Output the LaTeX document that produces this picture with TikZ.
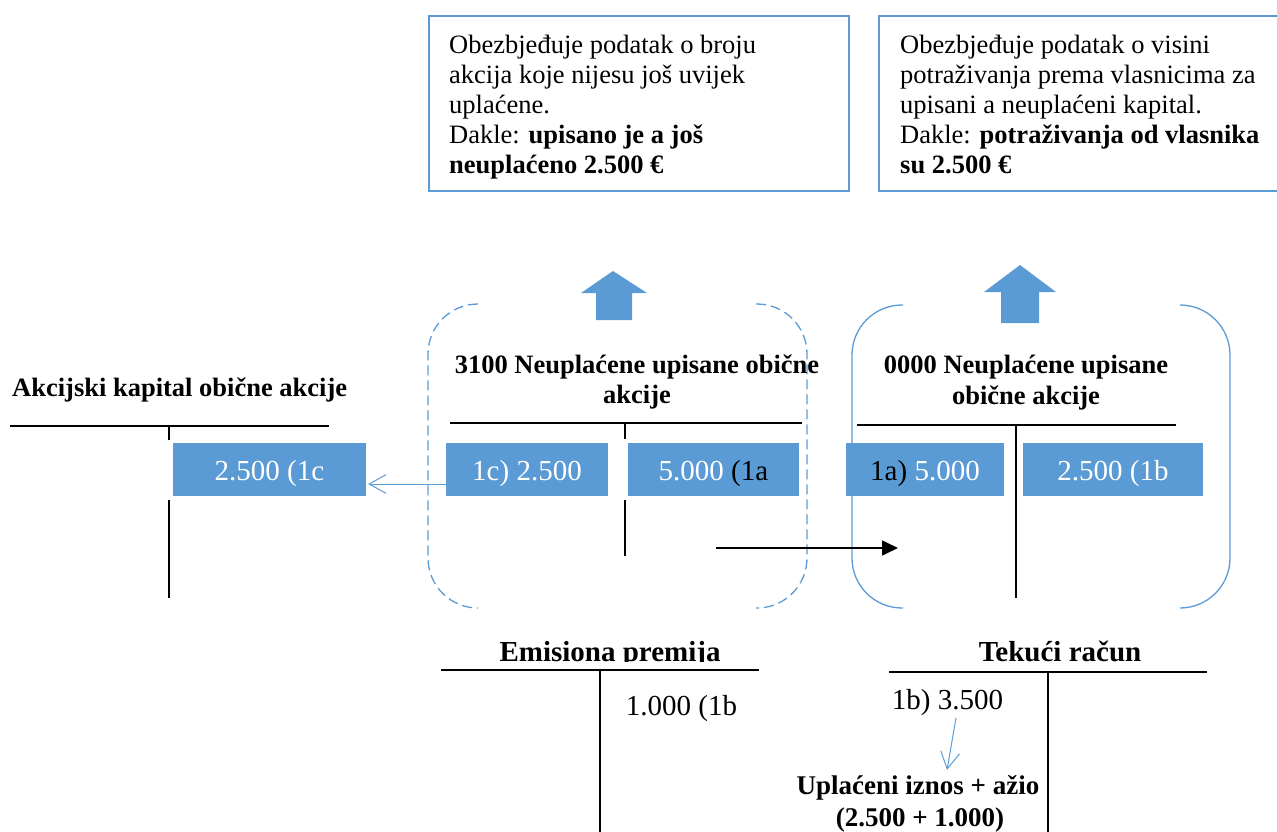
\documentclass[tikz,border=0pt]{standalone}
\usepackage{fontspec}
\setmainfont{Liberation Serif}
\usetikzlibrary{arrows.meta}
\definecolor{accblue}{HTML}{5B9BD5}
\tikzset{
  infobox/.style={draw=accblue, line width=2pt, inner sep=0pt, anchor=north west},
  infotext/.style={inner sep=0pt, anchor=north west, align=left, font=\fontsize{26.5}{30}\selectfont},
  entry/.style={fill=accblue, text=white, inner sep=0pt, minimum height=53pt,
    text height=21pt, text depth=0pt, font=\fontsize{29}{33}\selectfont},
  acctitle/.style={inner sep=0pt, anchor=base, font=\bfseries\fontsize{26.5}{30}\selectfont},
  bigtitle/.style={acctitle, font=\bfseries\fontsize{29}{33}\selectfont},
  notetitle/.style={acctitle, font=\bfseries\fontsize{27}{31}\selectfont},
  amount/.style={inner sep=0pt, anchor=base, font=\fontsize{29}{33}\selectfont},
  tline/.style={line width=1.8pt},
  groupline/.style={draw=accblue, line width=1.3pt, rounded corners=50pt},
  upshape/.style={fill=accblue},
  thinarrow/.style={draw=accblue, line width=1pt, -{Straight Barb[length=17pt,width=19pt]}},
  flowarrow/.style={line width=1.6pt, -{Triangle[length=16pt,width=15pt]}},
}
\begin{document}
\begin{tikzpicture}[x=1pt,y=-1pt]
\useasboundingbox (0,0) rectangle (1277,832);
\clip (0,0) rectangle (1277,832);

% explanatory boxes
\node[infobox, minimum width=420pt, minimum height=175pt] (info1) at (428,15) {};
\node[infotext] (info1txt) at (449,33) {\rule{0pt}{20pt}Obezbjeđuje podatak o broju\\
akcija koje nijesu još uvijek\\
uplaćene.\\
Dakle: \textbf{upisano je a još}\\
\textbf{neuplaćeno 2.500 €}};

\node[infobox, minimum width=410pt, minimum height=175pt] (info2) at (878,15) {};
\node[infotext] (info2txt) at (900,33) {\rule{0pt}{20pt}Obezbjeđuje podatak o visini\\
potraživanja prema vlasnicima za\\
upisani a neuplaćeni kapital.\\
Dakle: \textbf{potraživanja od vlasnika}\\
\textbf{su 2.500 €}};

% block arrows pointing to the boxes
\fill[upshape] (596,320) -- (596,293) -- (581,293) -- (613,271) -- (647,293) -- (632,293) -- (632,320) -- cycle;
\fill[upshape] (1001,323) -- (1001,292) -- (984,292) -- (1020,265) -- (1056,292) -- (1039,292) -- (1039,323) -- cycle;

% grouping brackets
\draw[groupline, dash pattern=on 10pt off 5pt] (478,304) -| (428,608) -- (478,608);
\draw[groupline, dash pattern=on 10pt off 5pt] (756,304) -| (807,608) -- (756,608);
\draw[groupline] (903,305) -| (852,608) -- (903,608);
\draw[groupline] (1180,305) -| (1230,608) -- (1180,608);

% T-account: Akcijski kapital
\node[acctitle, anchor=base west] (akcT) at (12,396) {Akcijski kapital obične akcije};
\draw[tline] (10,426) -- (329,426);
\draw[tline] (169,426) -- (169,440);
\draw[tline] (169,500) -- (169,598);

% T-account: 3100
\node[acctitle] (t3100a) at (637,373) {3100 Neuplaćene upisane obične};
\node[acctitle] (t3100b) at (637,403) {akcije};
\draw[tline] (450,423) -- (802,423);
\draw[tline] (625,423) -- (625,439);
\draw[tline] (625,500) -- (625,556);

% T-account: 0000
\node[acctitle] (t0000a) at (1026,373) {0000 Neuplaćene upisane};
\node[acctitle] (t0000b) at (1026,404) {obične akcije};
\draw[tline] (857,425) -- (1176,425);
\draw[tline] (1016,425) -- (1016,598);

% entries
\node[entry, minimum width=193pt] (ak1c) at (269.5,469.5) {2.500 (1c};
\node[entry, minimum width=162pt] (n1c) at (527,469.5) {1c) 2.500};
\node[entry, minimum width=171pt] (n1a) at (713.5,469.5) {5.000 \textcolor{black}{(1a}};
\node[entry, minimum width=158pt] (p1a) at (925,469.5) {\textcolor{black}{1a)} 5.000};
\node[entry, minimum width=180pt] (p1b) at (1113,469.5) {2.500 (1b};

\draw[thinarrow] ([yshift=-14.5pt]n1c.west) -- ([xshift=2pt,yshift=-14.5pt]ak1c.east);

\coordinate (flowA) at (716,548);
\coordinate (flowB) at (898,548);
\draw[flowarrow] (flowA) -- (flowB);

% T-account: Emisiona premija (title box cuts the descenders)
\begin{scope}
  \clip (430,620) rectangle (780,661);
  \node[bigtitle] (emT) at (610,661) {Emisiona premija};
\end{scope}
\draw[tline] (441,670) -- (759,670);
\draw[tline] (600,670) -- (600,840);
\node[amount] (em1b) at (681.5,715) {1.000 (1b};

% T-account: Tekuci racun
\node[bigtitle] (tekT) at (1060,661) {Tekući račun};
\draw[tline] (889,672) -- (1207,672);
\draw[tline] (1048,672) -- (1048,840);
\node[amount] (tk1b) at (947.5,709) {1b) 3.500};

\coordinate (pay) at (956,718);
\coordinate (payend) at (947,770);
\draw[thinarrow] (pay) -- (payend);

\node[notetitle] (uplA) at (918,794) {Uplaćeni iznos + ažio};
\node[notetitle] (uplB) at (920,826) {(2.500 + 1.000)};
\end{tikzpicture}
\end{document}
